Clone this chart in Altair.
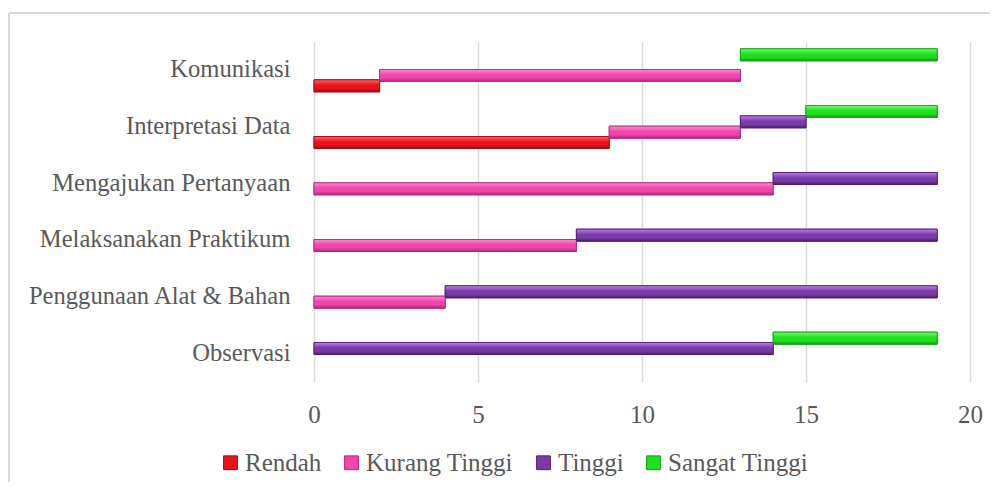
import altair as alt
import pandas as pd

categories = ["Komunikasi", "Interpretasi Data", "Mengajukan Pertanyaan ",
              "Melaksanakan Praktikum", "Penggunaan Alat & Bahan", "Observasi"]
series = ["Rendah", "Kurang Tinggi", "Tinggi", "Sangat Tinggi"]
rendah = [2, 9, 0, 0, 0, 0]
kurang_tinggi = [11, 4, 14, 8, 4, 0]
tinggi = [0, 2, 5, 11, 15, 14]
sangat_tinggi = [6, 4, 0, 0, 0, 5]
x_ticks = [0, 5, 10, 15, 20]

base_colors = ["#e8141c", "#f046aa", "#7a3aa8", "#1ee01e"]
light_colors = ["#ff6060", "#ff88d4", "#b880ea", "#70ff70"]
dark_colors = ["#a00a10", "#b02878", "#4e2070", "#10a010"]

values = [rendah, kurang_tinggi, tinggi, sangat_tinggi]
rows = []
for si, s in enumerate(series):
    for ci, c in enumerate(categories):
        v = values[si][ci]
        if v > 0:
            rows.append({"cat": c, "series": s, "order": si, "value": v})
df = pd.DataFrame(rows)

FONT = "Liberation Serif"
TXT = "#595959"
FS = 25

base = alt.Chart(df).transform_stack(
    stack="value", groupby=["cat"], as_=["x0", "x1"],
    sort=[alt.SortField("order", order="ascending")]
)

y_enc = alt.Y("cat:N", sort=categories, title=None,
              scale=alt.Scale(paddingInner=0.27, paddingOuter=0.135),
              axis=alt.Axis(labelPadding=24, labelLimit=400, ticks=False,
                            labelFontSize=24.6, domain=False, grid=False))
yoff = alt.YOffset("series:N", sort=series[::-1],
                   scale=alt.Scale(domain=series[::-1], paddingInner=0, paddingOuter=0))
x_enc = alt.X("x0:Q", title=None,
              scale=alt.Scale(domain=[0, 20], nice=False),
              axis=alt.Axis(values=x_ticks, labelPadding=20, ticks=False,
                            labelFlush=False,
                            domain=False, gridColor="#d9d9d9", gridWidth=1.5))

bars = base.mark_bar(height=12, strokeWidth=1).encode(
    y=y_enc, yOffset=yoff, x=x_enc, x2="x1:Q",
    color=alt.Color("series:N", sort=series,
                    scale=alt.Scale(domain=series, range=base_colors),
                    legend=alt.Legend(title=None, orient="none", direction="horizontal",
                                      legendX=-96, legendY=408, columns=4,
                                      symbolType="square", symbolSize=190,
                                      symbolStrokeWidth=1,
                                      labelOffset=2, columnPadding=17)),
    stroke=alt.Stroke("series:N", scale=alt.Scale(domain=series, range=dark_colors),
                      legend=None),
)

layers = [bars]
for si, s in enumerate(series):
    grad = alt.Gradient(gradient="linear", x1=0, x2=0, y1=0, y2=1, stops=[
        alt.GradientStop(color=light_colors[si], offset=0),
        alt.GradientStop(color=base_colors[si], offset=0.45),
        alt.GradientStop(color=base_colors[si], offset=0.7),
        alt.GradientStop(color=dark_colors[si], offset=1),
    ])
    layers.append(
        base.transform_filter(alt.datum.series == s).mark_bar(
            height=12, stroke=dark_colors[si], strokeWidth=0.8).encode(
            y=alt.Y("cat:N", sort=categories),
            yOffset=alt.YOffset("series:N", sort=series[::-1],
                                scale=alt.Scale(domain=series[::-1])),
            x="x0:Q", x2="x1:Q", color=alt.value(grad))
    )

border_v = alt.Chart(df).mark_rule(color="#d9d9d9", strokeWidth=1.5).encode(
    x=alt.value(-305), y=alt.value(-29), y2=alt.value(460))
border_h = alt.Chart(df).mark_rule(color="#d9d9d9", strokeWidth=1.5).encode(
    x=alt.value(-305), x2=alt.value(700), y=alt.value(-29))

chart = alt.layer(*layers, border_v, border_h).properties(
    width=656, height=340,
    autosize=alt.AutoSizeParams(type="none"),
    padding={"left": 306, "top": 34, "right": 20, "bottom": 100},
).configure(font=FONT).configure_view(stroke=None).configure_axis(
    labelFont=FONT, labelFontSize=FS, labelColor=TXT
).configure_legend(
    labelFont=FONT, labelFontSize=FS, labelColor=TXT
)

chart.save("out.html", embed_options={"renderer": "svg", "actions": False})
